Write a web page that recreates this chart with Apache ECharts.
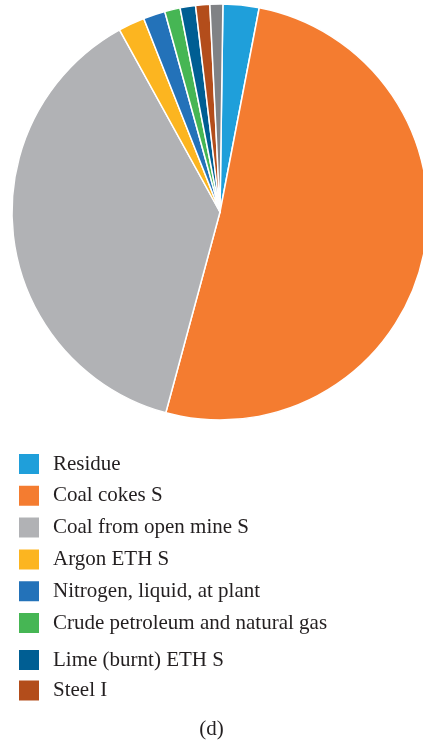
<!DOCTYPE html>
<html>
<head>
<meta charset="utf-8">
<script src="https://cdn.jsdelivr.net/npm/echarts@6/dist/echarts.min.js"></script>
<style>
  html, body { margin: 0; padding: 0; background: #fff; }
  #chart { width: 423px; height: 742px; }
</style>
</head>
<body>
<div id="chart"></div>
<script>
// slice names, clockwise from 12 o'clock (last one has no legend entry)
var names = [
  "Residue",
  "Coal cokes S",
  "Coal from open mine S",
  "Argon ETH S",
  "Nitrogen, liquid, at plant",
  "Crude petroleum and natural gas",
  "Lime (burnt) ETH S",
  "Steel I",
  "Others"
];
// shares in %
var shares = [2.8, 51.2, 37.8, 2.05, 1.7, 1.2, 1.2, 1.1, 1.0];
var colors = ["#1f9fda", "#f47c30", "#b1b2b5", "#fcb520", "#2372b9", "#46b654", "#005e93", "#b34d1b", "#808285"];

var legendTop = names.slice(0, 6);
var legendBottom = names.slice(6, 8);

var serif = "'Liberation Serif', 'DejaVu Serif', serif";

var chart = echarts.init(document.getElementById("chart"));

function makeLegend(list, top, gap) {
  return {
    data: list,
    orient: "vertical",
    left: 12,
    top: top,
    itemWidth: 22,
    itemHeight: 22,
    itemGap: gap,
    icon: "rect",
    selectedMode: false,
    textStyle: {
      fontFamily: serif,
      fontSize: 21,
      color: "#231f20",
      padding: [0, 0, 0, 8]
    }
  };
}

var option = {
  animation: false,
  color: colors,
  title: {
    text: "(d)",
    left: "center",
    top: 714,
    textStyle: { fontFamily: serif, fontSize: 21, fontWeight: "normal", color: "#231f20" }
  },
  legend: [makeLegend(legendTop, 447, 7.8), makeLegend(legendBottom, 643, 6.5)],
  series: [{
    type: "pie",
    center: [220, 212],
    radius: [0, 208],
    startAngle: 89.2,
    clockwise: true,
    label: { show: false },
    labelLine: { show: false },
    emphasis: { disabled: true },
    itemStyle: { borderColor: "#ffffff", borderWidth: 1.5 },
    data: names.map(function (n, i) { return { name: n, value: shares[i] }; })
  }]
};

chart.setOption(option);
</script>
</body>
</html>
